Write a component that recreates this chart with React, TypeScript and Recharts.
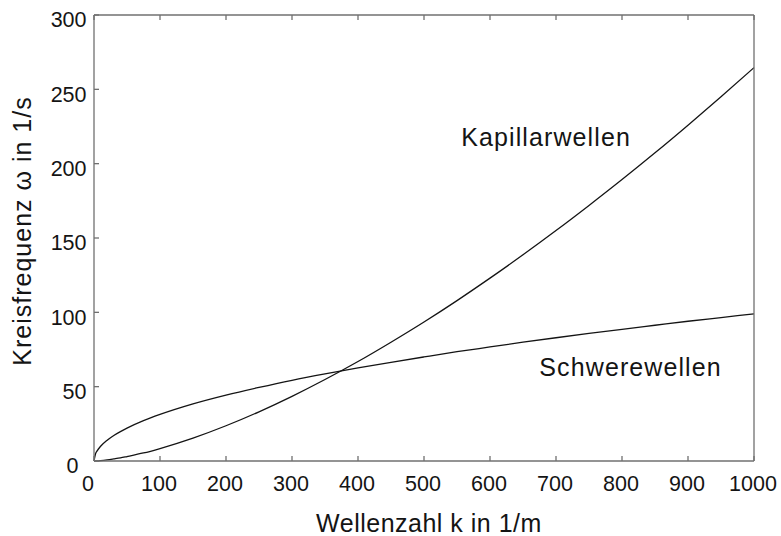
import React from 'react';
import { LineChart, Line, XAxis, YAxis, ReferenceDot } from 'recharts';

// Wellenzahl k in 1/m
const K = [0, 2, 5, 10, 20, 30, 40, 50, 75, 100, 150, 200, 250, 300, 350, 400, 450, 500, 550, 600, 650, 700, 750, 800, 850, 900, 950, 1000];
// Schwerewellen, omega in 1/s
const OMEGA_GRAVITY = [0, 4.4, 7.0, 9.9, 14.0, 17.2, 19.8, 22.1, 27.1, 31.3, 38.4, 44.3, 49.5, 54.3, 58.6, 62.6, 66.4, 70.0, 73.5, 76.7, 79.9, 82.9, 85.8, 88.6, 91.3, 94.0, 96.5, 99.0];
// Kapillarwellen, omega in 1/s
const OMEGA_CAPILLARY = [0, 0.02, 0.09, 0.26, 0.75, 1.4, 2.1, 3.0, 5.4, 8.4, 15.4, 23.7, 33.1, 43.5, 54.8, 66.9, 79.9, 93.5, 107.9, 123.0, 138.7, 155.0, 171.9, 189.3, 207.3, 225.9, 245.0, 264.6];

const X_TICKS = [0, 100, 200, 300, 400, 500, 600, 700, 800, 900, 1000];
const Y_TICKS = [0, 50, 100, 150, 200, 250, 300];

const X_TITLE = 'Wellenzahl k in 1/m';
const Y_TITLE = 'Kreisfrequenz \u03c9 in 1/s';
const CAPILLARY_LABEL = { text: 'Kapillarwellen', k: 685, omega: 212 };
const GRAVITY_LABEL = { text: 'Schwerewellen', k: 813, omega: 57 };

const FONT = 'Arial, "Liberation Sans", Helvetica, sans-serif';
const FRAME = '#707070';
const INK = '#141414';

const data = K.map((k, i) => ({
  k,
  gravity: OMEGA_GRAVITY[i],
  capillary: OMEGA_CAPILLARY[i]
}));

const NoTick = () => <g />;

const XTick = ({ x, y, payload }: any) => (
  <text
    x={x + (payload.value === 0 ? -6 : -1)}
    y={y}
    dy="0.71em"
    textAnchor="middle"
    fontSize={21.5}
    fontFamily={FONT}
    fill={INK}
  >
    {payload.value}
  </text>
);

const YTick = ({ x, y, payload }: any) => (
  <text
    x={x - (payload.value === 0 ? 8 : 0)}
    y={y + 4.5}
    dy="0.36em"
    textAnchor="end"
    fontSize={21.5}
    fontFamily={FONT}
    fill={INK}
  >
    {payload.value}
  </text>
);

const XTitle = ({ viewBox }: any) => (
  <text
    x={viewBox.x + viewBox.width / 2 + 5}
    y={viewBox.y + 70.5}
    textAnchor="middle"
    fontSize={25}
    letterSpacing={0.5}
    fontFamily={FONT}
    fill={INK}
  >
    {X_TITLE}
  </text>
);

const YTitle = ({ viewBox }: any) => {
  const cx = 22;
  const cy = viewBox.y + viewBox.height / 2 - 7;
  return (
    <text
      x={cx}
      y={cy}
      dy="0.36em"
      textAnchor="middle"
      transform={`rotate(-90 ${cx} ${cy})`}
      fontSize={25}
      letterSpacing={1}
      fontFamily={FONT}
      fill={INK}
    >
      {Y_TITLE}
    </text>
  );
};

const CurveLabel = (text: string) => ({ viewBox }: any) => (
  <text
    x={viewBox.x}
    y={viewBox.y}
    textAnchor="middle"
    fontSize={25}
    letterSpacing={1.1}
    fontFamily={FONT}
    fill={INK}
  >
    {text}
  </text>
);

export default function App() {
  return (
    <div style={{ position: 'absolute', left: 0, top: 0, background: '#fff' }}>
      <LineChart
        width={781}
        height={536}
        data={data}
        margin={{ top: 0, right: 0, bottom: 0, left: 0 }}
      >
        <XAxis
          dataKey="k"
          type="number"
          domain={[0, 1000]}
          ticks={X_TICKS}
          height={75}
          stroke={FRAME}
          strokeWidth={1.3}
          tickSize={-5}
          tickMargin={20}
          tick={<XTick />}
          label={<XTitle />}
        />
        <XAxis
          xAxisId="top"
          orientation="top"
          dataKey="k"
          type="number"
          domain={[0, 1000]}
          ticks={X_TICKS}
          height={15}
          stroke={FRAME}
          strokeWidth={1.3}
          tickSize={-5}
          tick={<NoTick />}
        />
        <YAxis
          type="number"
          domain={[0, 300]}
          ticks={Y_TICKS}
          width={94}
          stroke={FRAME}
          strokeWidth={1.3}
          tickSize={-5}
          tickMargin={12.5}
          tick={<YTick />}
          label={<YTitle />}
        />
        <YAxis
          yAxisId="right"
          orientation="right"
          type="number"
          domain={[0, 300]}
          ticks={Y_TICKS}
          width={27}
          stroke={FRAME}
          strokeWidth={1.3}
          tickSize={-5}
          tick={<NoTick />}
        />
        <Line
          type="monotone"
          dataKey="capillary"
          stroke={INK}
          strokeWidth={1.3}
          dot={false}
          isAnimationActive={false}
        />
        <Line
          type="monotone"
          dataKey="gravity"
          stroke={INK}
          strokeWidth={1.3}
          dot={false}
          isAnimationActive={false}
        />
        <ReferenceDot
          x={CAPILLARY_LABEL.k}
          y={CAPILLARY_LABEL.omega}
          r={0}
          stroke="none"
          fill="none"
          label={CurveLabel(CAPILLARY_LABEL.text)}
        />
        <ReferenceDot
          x={GRAVITY_LABEL.k}
          y={GRAVITY_LABEL.omega}
          r={0}
          stroke="none"
          fill="none"
          label={CurveLabel(GRAVITY_LABEL.text)}
        />
      </LineChart>
    </div>
  );
}
